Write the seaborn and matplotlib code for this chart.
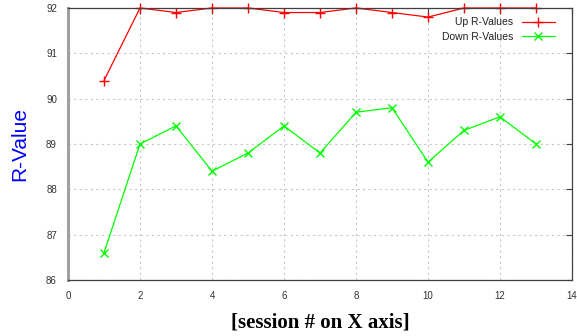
import matplotlib
matplotlib.use("Agg")
import matplotlib.pyplot as plt
import seaborn as sns
import pandas as pd

sessions = [1, 2, 3, 4, 5, 6, 7, 8, 9, 10, 11, 12, 13]
up_values = [90.4, 92.0, 91.9, 92.0, 92.0, 91.9, 91.9, 92.0, 91.9, 91.8, 92.0, 92.0, 92.0]
down_values = [86.6, 89.0, 89.4, 88.4, 88.8, 89.4, 88.8, 89.7, 89.8, 88.6, 89.3, 89.6, 89.0]
x_ticks = [0, 2, 4, 6, 8, 10, 12, 14]
y_ticks = [86, 87, 88, 89, 90, 91, 92]

sns.set_style("white")
plt.rcParams["font.family"] = ["Liberation Sans", "DejaVu Sans"]

df = pd.DataFrame({"session": sessions, "up": up_values, "down": down_values})

fig = plt.figure(figsize=(5.77, 3.36), dpi=100)
ax = fig.add_axes([68 / 577, 1 - 280 / 336, (572 - 68) / 577, (280 - 8) / 336])

sns.lineplot(data=df, x="session", y="up", ax=ax, color="#ff0000", marker="+",
             markersize=7, markeredgewidth=1.0, markeredgecolor="#ff0000",
             linewidth=0.9, label="Up R-Values", clip_on=False)
sns.lineplot(data=df, x="session", y="down", ax=ax, color="#00ff00", marker="x",
             markersize=5.5, markeredgewidth=1.0, markeredgecolor="#00ff00",
             linewidth=0.9, label="Down R-Values", clip_on=False)

ax.set_xlim(0, 14)
ax.set_ylim(86, 92)
ax.set_xticks(x_ticks)
ax.set_yticks(y_ticks)
ax.grid(True, linestyle=(0, (2, 3)), color="#c8c8c8", linewidth=0.8)
ax.set_axisbelow(True)

ax.tick_params(axis="both", direction="in", length=4, width=0.8, color="#404040",
               labelsize=7, labelcolor="#333333", top=True, right=True, pad=8)

for side in ["top", "right", "bottom"]:
    ax.spines[side].set_color("#404040")
    ax.spines[side].set_linewidth(0.9)
ax.spines["left"].set_color("#a0a0a0")
ax.spines["left"].set_linewidth(2.2)

ax.set_ylabel("R-Value", color="#0000ff", fontsize=15, labelpad=12)
ax.set_xlabel("[session # on X axis]", fontsize=15, fontweight="bold",
              family="Liberation Serif", color="black", labelpad=8)

leg = ax.legend(loc="upper right", frameon=False, fontsize=7.5, markerfirst=False,
                bbox_to_anchor=(0.985, 1.0), handlelength=3.2, labelspacing=0.45)
for text in leg.get_texts():
    text.set_color("#222222")

fig.savefig("out.png", dpi=100)
